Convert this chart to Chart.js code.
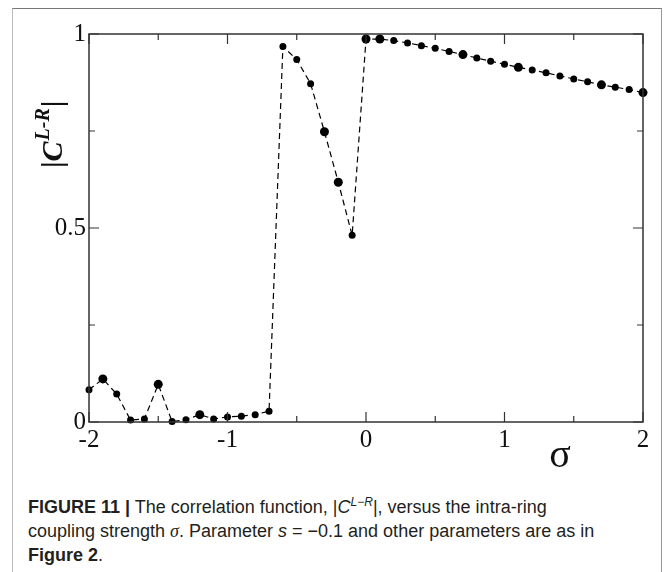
<!DOCTYPE html>
<html>
<head>
<meta charset="utf-8">
<script src="https://cdn.jsdelivr.net/npm/chart.js@4/dist/chart.umd.min.js"></script>
<style>
  html, body { margin: 0; padding: 0; background: #fff; }
  #frame {
    position: absolute; left: 12px; top: 8px; width: 648px; height: 600px;
    border-top: 1.5px solid #777; border-left: 1.5px solid #bbb; border-right: 1.5px solid #999;
  }
  #wrap { position: absolute; left: 0; top: 0; width: 664px; height: 480px; }
  #caption {
    position: absolute; left: 28px; top: 495px; width: 630px;
    font-family: "Liberation Sans Narrow", "Liberation Sans", sans-serif;
    font-size: 18px; line-height: 24px; color: #231f20;
  }
  #caption sup { font-size: 12px; line-height: 0; }
  #caption .it { font-family: "Liberation Serif", serif; font-style: italic; }
</style>
</head>
<body>
<div id="frame"></div>
<div id="wrap"><canvas id="corr" width="664" height="480"></canvas></div>
<div id="caption"><b>FIGURE 11 |</b> The correlation function, |<i>C</i><sup><i>L−R</i></sup>|, versus the intra-ring<br>coupling strength <span class="it">σ</span>. Parameter <i>s</i> = −0.1 and other parameters are as in<br><b>Figure 2</b>.</div>
<script>
// valores de sigma y |C^{L-R}|
const sigma = [
  -2.0, -1.9, -1.8, -1.7, -1.6, -1.5, -1.4, -1.3, -1.2, -1.1,
  -1.0, -0.9, -0.8, -0.7, -0.6, -0.5, -0.4, -0.3, -0.2, -0.1,
   0.0,  0.1,  0.2,  0.3,  0.4,  0.5,  0.6,  0.7,  0.8,  0.9,
   1.0,  1.1,  1.2,  1.3,  1.4,  1.5,  1.6,  1.7,  1.8,  1.9, 2.0
];
const corrLR = [
  0.083, 0.111, 0.072, 0.005, 0.008, 0.097, 0.001, 0.006, 0.019, 0.008,
  0.013, 0.015, 0.019, 0.028, 0.968, 0.934, 0.872, 0.748, 0.618, 0.481,
  0.987, 0.987, 0.983, 0.977, 0.970, 0.963, 0.955, 0.947, 0.938, 0.930,
  0.922, 0.914, 0.907, 0.900, 0.892, 0.884, 0.877, 0.869, 0.863, 0.857, 0.849
];
const xTickLabels = ['-2', '-1', '0', '1', '2'];
const yTickLabels = ['0', '0.5', '1'];
// puntos que salen un poco mas grandes
const bigDots = [-1.9, -1.5, -1.2, -0.3, -0.2, 0.0, 0.1, 0.7, 1.1, 1.7, 2.0];

const serif = '"Liberation Serif", "Times New Roman", serif';

// ticks hacia adentro, marco del grafico y titulos de ejes
const axesPlugin = {
  id: 'axesPlugin',
  afterDraw(chart) {
    const ctx = chart.ctx;
    const a = chart.chartArea;
    const xs = chart.scales.x, ys = chart.scales.y;
    ctx.save();
    ctx.strokeStyle = '#333';
    ctx.lineWidth = 1.5;
    ctx.strokeRect(a.left, a.top, a.right - a.left, a.bottom - a.top);
    ctx.lineWidth = 1.2;
    ctx.beginPath();
    for (let v = -2; v <= 2.001; v += 0.5) {
      const px = xs.getPixelForValue(v);
      const len = Math.abs(v - Math.round(v)) < 1e-6 ? 10 : 6;
      ctx.moveTo(px, a.bottom); ctx.lineTo(px, a.bottom - len);
      ctx.moveTo(px, a.top); ctx.lineTo(px, a.top + len);
    }
    for (let v = 0; v <= 1.001; v += 0.25) {
      const py = ys.getPixelForValue(v);
      const len = Math.abs(v * 2 - Math.round(v * 2)) < 1e-6 ? 10 : 6;
      ctx.moveTo(a.left, py); ctx.lineTo(a.left + len, py);
      ctx.moveTo(a.right, py); ctx.lineTo(a.right - len, py);
    }
    ctx.stroke();

    // sigma
    ctx.fillStyle = '#111';
    ctx.font = '40px ' + serif;
    ctx.textAlign = 'center';
    ctx.textBaseline = 'alphabetic';
    ctx.fillText('σ', 560, 467);

    // |C^{L-R}| girado
    ctx.translate(62, 168);
    ctx.rotate(-Math.PI / 2);
    ctx.textAlign = 'left';
    let x = 0;
    ctx.font = 'bold 30px ' + serif;
    ctx.fillText('|', x, 0); x += ctx.measureText('|').width;
    ctx.font = 'italic bold 30px ' + serif;
    ctx.fillText('C', x, 0); x += ctx.measureText('C').width + 1;
    ctx.font = 'italic bold 20px ' + serif;
    ctx.fillText('L-R', x, -13); x += ctx.measureText('L-R').width + 1;
    ctx.font = 'bold 30px ' + serif;
    ctx.fillText('|', x, 0);
    ctx.restore();
  }
};

new Chart(document.getElementById('corr').getContext('2d'), {
  type: 'scatter',
  data: {
    datasets: [{
      data: sigma.map((s, i) => ({ x: s, y: corrLR[i] })),
      showLine: true,
      borderColor: '#000',
      borderWidth: 1.2,
      borderDash: [6, 4],
      backgroundColor: '#000',
      pointBorderWidth: 0,
      pointRadius: ctx => bigDots.includes(sigma[ctx.dataIndex]) ? 4.5 : 3.5,
      clip: false
    }]
  },
  options: {
    responsive: false,
    animation: false,
    devicePixelRatio: 1,
    layout: { padding: { left: 0, top: 34, right: 21, bottom: 0 } },
    plugins: { legend: { display: false }, tooltip: { enabled: false } },
    scales: {
      x: {
        type: 'linear', min: -2, max: 2,
        afterFit: s => { s.height = 58; },
        grid: { display: false, drawTicks: false },
        border: { display: false },
        ticks: {
          stepSize: 1, padding: 3, color: '#111',
          font: { family: serif, size: 25 },
          callback: v => xTickLabels[Math.round(v) + 2] ?? ''
        }
      },
      y: {
        min: 0, max: 1,
        afterFit: s => { s.width = 89; },
        grid: { display: false, drawTicks: false },
        border: { display: false },
        ticks: {
          stepSize: 0.5, padding: 3, color: '#111',
          font: { family: serif, size: 25 },
          callback: v => yTickLabels[Math.round(v * 2)] ?? ''
        }
      }
    }
  },
  plugins: [axesPlugin]
});
</script>
</body>
</html>
